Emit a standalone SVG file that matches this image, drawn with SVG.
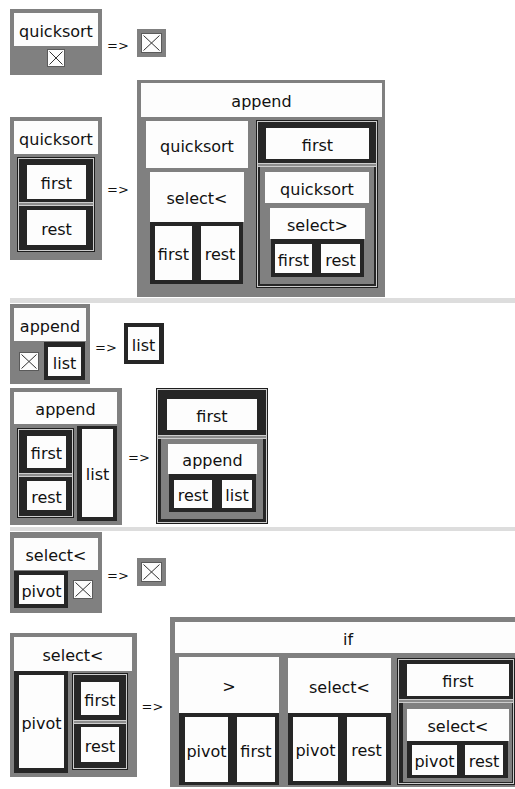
<svg xmlns="http://www.w3.org/2000/svg" width="515" height="789" viewBox="0 0 515 789">
<style>
.bg{fill:#ffffff}
.g{fill:#808080}
.w{fill:#fdfdfd}
.d{fill:#262626}
.po{fill:#1e1e1e}
.pl{fill:#cdcdcd}
.pm{fill:#8c8c8c}
.sep{fill:#dddddd}
.t{font-family:"DejaVu Sans",sans-serif;font-size:16px;text-anchor:middle;fill:#111}
.ar{font-family:"DejaVu Sans",sans-serif;font-size:13px;text-anchor:middle;fill:#111}
.xb{fill:#fcfcfc;stroke:#5a5a5a;stroke-width:1}
.xl{stroke:#333;stroke-width:1}
</style>
<rect class="bg" x="0" y="0" width="515" height="789"/>
<g id="separators">
<rect class="sep" x="10" y="298" width="505" height="5"/>
<rect class="sep" x="10" y="527" width="505" height="4"/>
</g>

<!-- Rule 1: quicksort [] => [] -->
<g id="r1-lhs">
<rect class="g" x="10" y="9" width="92" height="66"/>
<rect class="w" x="14" y="13" width="84" height="33"/>
<text class="t" x="56" y="36.5">quicksort</text>
<rect class="xb" x="47.5" y="49.5" width="17" height="17"/>
<path class="xl" d="M49.5 51.5L62.5 64.5M62.5 51.5L49.5 64.5"/>
</g>
<g id="r1-rhs">
<rect class="g" x="137" y="29" width="29" height="28"/>
<rect class="xb" x="141.5" y="33.5" width="20" height="19"/>
<path class="xl" d="M143.5 35.5L159.5 50.5M159.5 35.5L143.5 50.5"/>
</g>

<!-- Rule 2: quicksort (first:rest) => append ... -->
<g id="r2-lhs">
<rect class="g" x="10" y="117" width="92" height="143"/>
<rect class="w" x="14" y="121" width="84" height="33"/>
<text class="t" x="56" y="144.5">quicksort</text>
<rect class="po" x="17" y="157" width="78" height="95"/>
<rect class="pl" x="18" y="158" width="76" height="93"/>
<rect class="d" x="19" y="159" width="74" height="91"/>
<rect class="pl" x="19" y="202" width="74" height="4"/>
<rect class="pm" x="19" y="203" width="74" height="2"/>
<rect class="w" x="27" y="165" width="59" height="34"/>
<text class="t" x="56.5" y="189">first</text>
<rect class="w" x="27" y="210" width="59" height="35"/>
<text class="t" x="56.5" y="234.5">rest</text>
</g>
<g id="r2-rhs">
<rect class="g" x="137" y="80" width="248" height="217"/>
<rect class="w" x="141" y="83" width="241" height="34"/>
<text class="t" x="261.5" y="107">append</text>
<rect class="w" x="146" y="121" width="102" height="47"/>
<text class="t" x="197" y="151.5">quicksort</text>
<rect class="w" x="150" y="172" width="94" height="50"/>
<text class="t" x="197" y="204">select&lt;</text>
<rect class="d" x="150" y="222" width="93" height="62"/>
<rect class="w" x="155" y="226" width="37" height="54"/>
<text class="t" x="173.5" y="260">first</text>
<rect class="w" x="201" y="226" width="38" height="54"/>
<text class="t" x="220" y="260">rest</text>
<rect class="po" x="256" y="120" width="122" height="168"/>
<rect class="pl" x="257" y="121" width="120" height="166"/>
<rect class="d" x="258" y="122" width="118" height="164"/>
<rect class="w" x="266" y="128" width="103" height="31"/>
<text class="t" x="317.5" y="150.5">first</text>
<rect class="pl" x="258" y="163" width="118" height="4"/>
<rect class="pm" x="258" y="164" width="118" height="2"/>
<rect class="g" x="260" y="167" width="114" height="117"/>
<rect class="w" x="265" y="172" width="104" height="31"/>
<text class="t" x="317" y="194.5">quicksort</text>
<rect class="w" x="270" y="208" width="95" height="31"/>
<text class="t" x="317.5" y="230.5">select&gt;</text>
<rect class="d" x="271" y="239" width="93" height="38"/>
<rect class="w" x="275" y="244" width="37" height="29"/>
<text class="t" x="293.5" y="265.5">first</text>
<rect class="w" x="321" y="244" width="39" height="29"/>
<text class="t" x="340.5" y="265.5">rest</text>
</g>

<!-- Rule 3: append [] list => list -->
<g id="r3-lhs">
<rect class="g" x="10" y="304" width="80" height="80"/>
<rect class="w" x="14" y="308" width="72" height="33"/>
<text class="t" x="50" y="331.5">append</text>
<rect class="xb" x="19.5" y="352.5" width="19" height="18"/>
<path class="xl" d="M21.5 354.5L36.5 368.5M36.5 354.5L21.5 368.5"/>
<rect class="d" x="44" y="342" width="41" height="38"/>
<rect class="w" x="48" y="347" width="33" height="29"/>
<text class="t" x="64.5" y="368.5">list</text>
</g>
<g id="r3-rhs">
<rect class="d" x="124" y="323" width="40" height="41"/>
<rect class="w" x="128" y="327" width="31" height="33"/>
<text class="t" x="143.5" y="350.5">list</text>
</g>

<!-- Rule 4: append (first:rest) list => first : append rest list -->
<g id="r4-lhs">
<rect class="g" x="10" y="388" width="112" height="137"/>
<rect class="w" x="14" y="392" width="103" height="32"/>
<text class="t" x="65.5" y="415">append</text>
<rect class="po" x="17" y="428" width="57" height="90"/>
<rect class="pl" x="18" y="429" width="55" height="88"/>
<rect class="d" x="19" y="430" width="53" height="86"/>
<rect class="pl" x="19" y="473" width="53" height="4"/>
<rect class="pm" x="19" y="474" width="53" height="2"/>
<rect class="w" x="27" y="436" width="39" height="32"/>
<text class="t" x="46.5" y="459">first</text>
<rect class="w" x="27" y="481" width="39" height="29"/>
<text class="t" x="46.5" y="502.5">rest</text>
<rect class="d" x="77" y="426" width="40" height="95"/>
<rect class="w" x="82" y="429" width="31" height="88"/>
<text class="t" x="97.5" y="480">list</text>
</g>
<g id="r4-rhs">
<rect class="po" x="156" y="388" width="112" height="136"/>
<rect class="pl" x="157" y="389" width="110" height="134"/>
<rect class="d" x="158" y="390" width="108" height="132"/>
<rect class="w" x="167" y="399" width="90" height="31"/>
<text class="t" x="212" y="421.5">first</text>
<rect class="pl" x="158" y="435" width="108" height="4"/>
<rect class="pm" x="158" y="436" width="108" height="2"/>
<rect class="g" x="161" y="439" width="102" height="80"/>
<rect class="w" x="168" y="444" width="89" height="30"/>
<text class="t" x="212.5" y="466">append</text>
<rect class="d" x="169" y="474" width="87" height="38"/>
<rect class="w" x="174" y="480" width="38" height="28"/>
<text class="t" x="193" y="501">rest</text>
<rect class="w" x="222" y="480" width="30" height="28"/>
<text class="t" x="237" y="501">list</text>
</g>

<!-- Rule 5: select< pivot [] => [] -->
<g id="r5-lhs">
<rect class="g" x="10" y="532" width="92" height="81"/>
<rect class="w" x="14" y="538" width="84" height="32"/>
<text class="t" x="56" y="561">select&lt;</text>
<rect class="d" x="14" y="571" width="54" height="37"/>
<rect class="w" x="19" y="575" width="45" height="29"/>
<text class="t" x="41.5" y="596.5">pivot</text>
<rect class="xb" x="73.5" y="580.5" width="19" height="18"/>
<path class="xl" d="M75.5 582.5L90.5 596.5M90.5 582.5L75.5 596.5"/>
</g>
<g id="r5-rhs">
<rect class="g" x="137" y="558" width="29" height="28"/>
<rect class="xb" x="141.5" y="562.5" width="20" height="19"/>
<path class="xl" d="M143.5 564.5L159.5 579.5M159.5 564.5L143.5 579.5"/>
</g>

<!-- Rule 6: select< pivot (first:rest) => if ... -->
<g id="r6-lhs">
<rect class="g" x="10" y="633" width="127" height="144"/>
<rect class="w" x="14" y="637" width="118" height="34"/>
<text class="t" x="73" y="661">select&lt;</text>
<rect class="d" x="14" y="671" width="54" height="102"/>
<rect class="w" x="19" y="675" width="45" height="93"/>
<text class="t" x="41.5" y="728.5">pivot</text>
<rect class="po" x="72" y="673" width="56" height="97"/>
<rect class="pl" x="73" y="674" width="54" height="95"/>
<rect class="d" x="74" y="675" width="52" height="93"/>
<rect class="pl" x="74" y="720" width="52" height="4"/>
<rect class="pm" x="74" y="721" width="52" height="2"/>
<rect class="w" x="81" y="682" width="38" height="33"/>
<text class="t" x="100" y="705.5">first</text>
<rect class="w" x="81" y="727" width="38" height="35"/>
<text class="t" x="100" y="751.5">rest</text>
</g>
<g id="r6-rhs">
<rect class="g" x="170" y="617" width="350" height="170"/>
<rect class="w" x="175" y="622" width="346" height="31"/>
<text class="t" x="348" y="644.5">if</text>
<rect class="w" x="179" y="657" width="100" height="56"/>
<text class="t" x="229" y="692">&gt;</text>
<rect class="d" x="179" y="713" width="100" height="72"/>
<rect class="w" x="185" y="717" width="43" height="65"/>
<text class="t" x="206.5" y="756.5">pivot</text>
<rect class="w" x="237" y="717" width="38" height="65"/>
<text class="t" x="256" y="756.5">first</text>
<rect class="w" x="288" y="658" width="103" height="55"/>
<text class="t" x="339.5" y="692.5">select&lt;</text>
<rect class="d" x="288" y="713" width="103" height="72"/>
<rect class="w" x="293" y="717" width="45" height="64"/>
<text class="t" x="315.5" y="756">pivot</text>
<rect class="w" x="347" y="717" width="39" height="64"/>
<text class="t" x="366.5" y="756">rest</text>
<rect class="po" x="397" y="658" width="118" height="127"/>
<rect class="pl" x="398" y="659" width="116" height="125"/>
<rect class="d" x="399" y="660" width="114" height="123"/>
<rect class="w" x="407" y="664" width="102" height="32"/>
<text class="t" x="458" y="687">first</text>
<rect class="pl" x="399" y="699" width="114" height="4"/>
<rect class="pm" x="399" y="700" width="114" height="2"/>
<rect class="g" x="403" y="703" width="109" height="79"/>
<rect class="w" x="407" y="709" width="102" height="32"/>
<text class="t" x="458" y="732">select&lt;</text>
<rect class="d" x="407" y="741" width="101" height="37"/>
<rect class="w" x="412" y="745" width="45" height="30"/>
<text class="t" x="434.5" y="767">pivot</text>
<rect class="w" x="465" y="745" width="38" height="30"/>
<text class="t" x="484" y="767">rest</text>
</g>

<g id="connectors">
<text class="ar" x="118" y="50">=&gt;</text>
<text class="ar" x="118" y="194">=&gt;</text>
<text class="ar" x="106" y="352">=&gt;</text>
<text class="ar" x="139" y="462">=&gt;</text>
<text class="ar" x="118" y="580">=&gt;</text>
<text class="ar" x="152.5" y="711">=&gt;</text>
</g>
</svg>
